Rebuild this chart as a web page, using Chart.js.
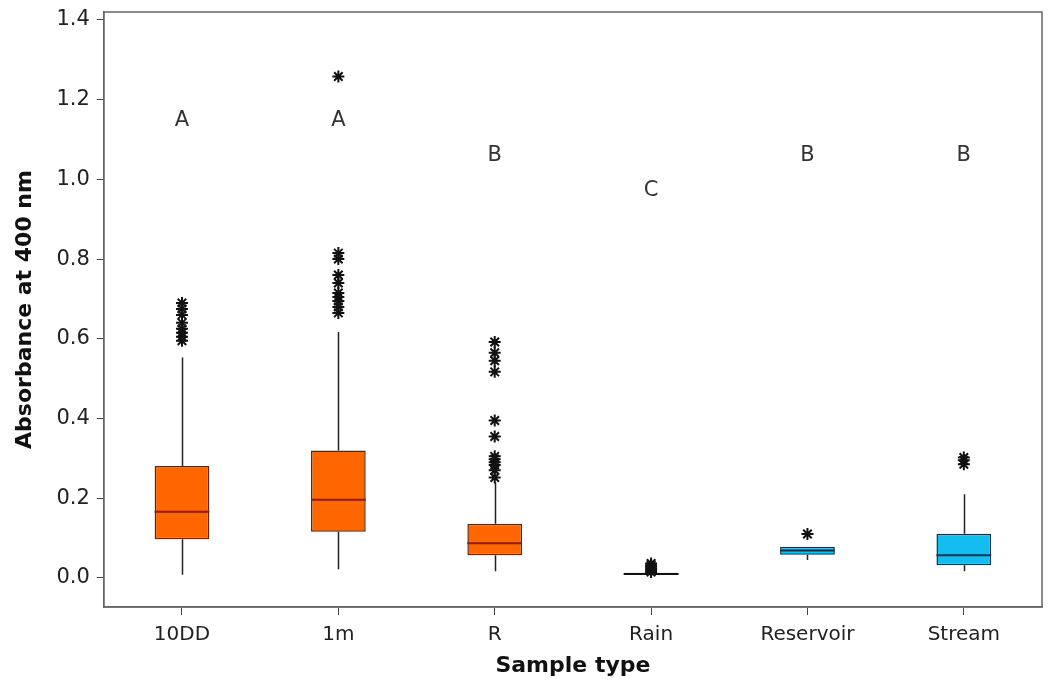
<!DOCTYPE html>
<html>
<head>
<meta charset="utf-8">
<script src="https://cdn.jsdelivr.net/npm/chart.js@4/dist/chart.umd.min.js"></script>
<style>
  html, body { margin: 0; padding: 0; background: #fff; overflow: hidden; }
</style>
</head>
<body>
<canvas id="myChart" width="1049" height="686"></canvas>
<script>
// sample types along the x axis
const categories = ['10DD', '1m', 'R', 'Rain', 'Reservoir', 'Stream'];

// box plot summaries
const whiskerLow = [0.008, 0.022, 0.017, 0.005, 0.045, 0.017];
const q1 = [0.097, 0.116, 0.057, 0.007, 0.058, 0.032];
const median = [0.166, 0.196, 0.087, 0.010, 0.069, 0.057];
const q3 = [0.281, 0.320, 0.136, 0.013, 0.078, 0.111];
const whiskerHigh = [0.553, 0.617, 0.240, 0.018, 0.078, 0.210];

// outliers (asterisks), one list per sample type
const outliers10DD = [0.595, 0.605, 0.615, 0.625, 0.640, 0.660, 0.675, 0.690];
const outliers1m = [0.665, 0.680, 0.695, 0.705, 0.715, 0.740, 0.760, 0.800, 0.815, 1.258];
const outliersR = [0.252, 0.270, 0.283, 0.290, 0.298, 0.305, 0.355, 0.395, 0.517, 0.545, 0.565, 0.592];
const outliersRain = [0.015, 0.020, 0.024, 0.028, 0.032, 0.036];
const outliersReservoir = [0.110];
const outliersStream = [0.285, 0.295, 0.302];

// letters from the multiple comparison test
const groupLetters = ['A', 'A', 'B', 'C', 'B', 'B'];
const letterY = [1.148, 1.148, 1.061, 0.973, 1.061, 1.061];

const yTicks = [0.0, 0.2, 0.4, 0.6, 0.8, 1.0, 1.2, 1.4];

const fillColors = ['#ff6600', '#ff6600', '#ff6600', '#111', '#14bdf0', '#14bdf0'];
const edgeColors = ['#6b2200', '#6b2200', '#6b2200', '#111', '#0b3350', '#0b3350'];
const medianColors = ['#8a1c00', '#8a1c00', '#8a1c00', '#111', '#0b3350', '#0b3350'];

const outlierLists = [outliers10DD, outliers1m, outliersR, outliersRain, outliersReservoir, outliersStream];
let outlierPoints = [];
outlierLists.forEach((list, i) => {
    list.forEach(v => outlierPoints.push({ x: categories[i], y: v }));
});

const fontFamily = '"DejaVu Sans", Verdana, sans-serif';

const boxExtras = {
    id: 'boxExtras',
    beforeDatasetsDraw(chart) {
        const c = chart.ctx;
        const x = chart.scales.x, y = chart.scales.y;
        c.save();
        c.strokeStyle = '#222';
        c.lineWidth = 1.5;
        categories.forEach((cat, i) => {
            const px = Math.round(x.getPixelForValue(i)) + 0.5;
            c.beginPath();
            c.moveTo(px, y.getPixelForValue(whiskerLow[i]));
            c.lineTo(px, y.getPixelForValue(q1[i]));
            c.moveTo(px, y.getPixelForValue(q3[i]));
            c.lineTo(px, y.getPixelForValue(whiskerHigh[i]));
            c.stroke();
        });
        c.restore();
    },
    afterDatasetsDraw(chart) {
        const c = chart.ctx;
        const x = chart.scales.x, y = chart.scales.y;
        const meta = chart.getDatasetMeta(0);
        c.save();
        categories.forEach((cat, i) => {
            const bar = meta.data[i];
            const half = bar.width / 2;
            const py = y.getPixelForValue(median[i]);
            c.strokeStyle = medianColors[i];
            c.lineWidth = 2;
            c.beginPath();
            c.moveTo(bar.x - half, py);
            c.lineTo(bar.x + half, py);
            c.stroke();
        });
        // group letters
        c.fillStyle = '#333';
        c.font = '21px ' + fontFamily;
        c.textAlign = 'center';
        c.textBaseline = 'middle';
        groupLetters.forEach((l, i) => {
            c.fillText(l, x.getPixelForValue(i), y.getPixelForValue(letterY[i]));
        });
        // frame round the plot area
        const a = chart.chartArea;
        c.strokeStyle = '#666';
        c.lineWidth = 1.5;
        c.strokeRect(a.left, a.top, a.right - a.left, a.bottom - a.top);
        c.restore();
    }
};

let ctx = document.getElementById('myChart');
let boxChart = new Chart(ctx, {
    type: 'bar',
    data: {
        labels: categories,
        datasets: [
            {
                label: 'IQR',
                data: q1.map((v, i) => [v, q3[i]]),
                backgroundColor: fillColors,
                borderColor: edgeColors,
                borderWidth: 1.5,
                borderSkipped: false,
                barPercentage: 0.35,
                categoryPercentage: 1.0,
                order: 2
            },
            {
                type: 'line',
                label: 'Outliers',
                data: outlierPoints,
                showLine: false,
                pointStyle: 'star',
                pointRadius: 6,
                pointBorderWidth: 2,
                pointBorderColor: '#111',
                pointBackgroundColor: '#111',
                order: 1
            }
        ]
    },
    options: {
        responsive: false,
        animation: false,
        layout: { autoPadding: false, padding: { top: 0, right: 7, left: 8, bottom: 9 } },
        plugins: {
            legend: { display: false },
            tooltip: { enabled: false }
        },
        scales: {
            x: {
                offset: true,
                grid: { display: true, drawOnChartArea: false, tickLength: 8, tickColor: '#444', offset: false },
                border: { color: '#666', width: 1.5 },
                ticks: { color: '#222', font: { family: fontFamily, size: 20, lineHeight: 1.0 }, padding: 10 },
                title: {
                    display: true, text: 'Sample type', color: '#111',
                    font: { family: fontFamily, size: 22, weight: 'bold', lineHeight: 1.0 }, padding: { top: 0, bottom: 0 }
                }
            },
            y: {
                min: -0.073,
                max: 1.42,
                afterBuildTicks(axis) {
                    axis.ticks = yTicks.map(v => ({ value: v }));
                },
                afterFit(axis) {
                    axis.paddingTop = 12;
                    axis.paddingBottom = 0;
                },
                grid: { display: true, drawOnChartArea: false, tickLength: 7, tickColor: '#444' },
                border: { color: '#666', width: 1.5 },
                ticks: {
                    color: '#222', font: { family: fontFamily, size: 21 }, padding: 7,
                    callback: v => Number(v).toFixed(1)
                },
                title: {
                    display: true, text: 'Absorbance at 400 nm', color: '#111',
                    font: { family: fontFamily, size: 22, weight: 'bold' }, padding: { bottom: 11 }
                }
            }
        }
    },
    plugins: [boxExtras]
});
</script>
</body>
</html>
